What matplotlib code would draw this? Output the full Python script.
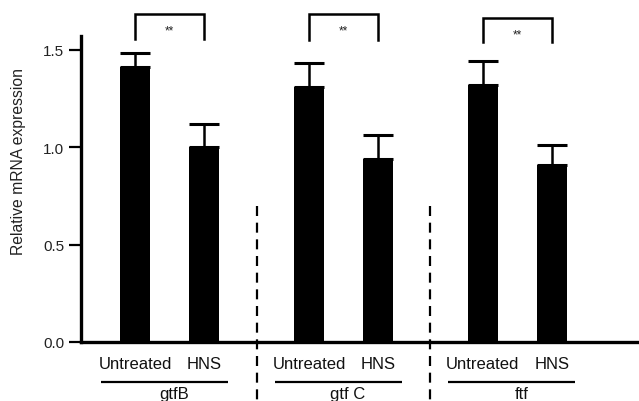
import matplotlib
matplotlib.use("Agg")
import matplotlib.pyplot as plt
from matplotlib.transforms import blended_transform_factory

plt.rcParams['font.family'] = ['Liberation Sans', 'DejaVu Sans']

# Data
genes = ["gtfB", "gtf C", "ftf"]
treatments = ["Untreated", "HNS"]
means = [1.41, 1.00, 1.31, 0.94, 1.32, 0.91]
errors = [0.07, 0.12, 0.12, 0.12, 0.12, 0.10]
bracket_tops = [1.68, 1.68, 1.66]
bracket_feet = [1.555, 1.55, 1.54]
star_y = [1.60, 1.60, 1.58]
significance = ["**", "**", "**"]
y_ticks = [0.0, 0.5, 1.0, 1.5]
y_tick_labels = ["0.0", "0.5", "1.0", "1.5"]

# Layout
group_spacing = 2.52
first_group = 1.285
half_gap = 0.5
bar_width = 0.43

group_centers = [first_group + i * group_spacing for i in range(len(genes))]
positions = []
labels = []
for gc in group_centers:
    positions += [gc - half_gap, gc + half_gap]
    labels += treatments

fig = plt.figure(figsize=(6.39, 4.02), dpi=100)
ax = fig.add_axes([81 / 639, 1 - 343 / 402, 1 - 81 / 639, (343 - 36.7) / 402])

ax.bar(positions, means, width=bar_width, color="black", zorder=2)
ax.errorbar(positions, means, yerr=[[0] * len(means), errors], fmt="none",
            ecolor="black", elinewidth=1.8, capsize=10.6, capthick=2.2, zorder=3)

ax.set_xlim(0, 558 / 69)
ax.set_ylim(0, 1.571)

for side in ("top", "right"):
    ax.spines[side].set_visible(False)
ax.spines["left"].set_linewidth(2.4)
ax.spines["bottom"].set_linewidth(2.4)

ax.set_yticks(y_ticks, y_tick_labels)
ax.tick_params(axis="y", length=9, width=1.6, direction="out", labelsize=11,
               pad=3, labelcolor="#222222")
ax.set_xticks(positions, labels)
ax.tick_params(axis="x", length=0, pad=10, labelsize=12, labelcolor="#111111")

ax.set_ylabel("Relative mRNA expression", fontsize=11.3, color="#222222")
ax.yaxis.set_label_coords(-0.099, 0.594)

trans = blended_transform_factory(ax.transData, ax.transAxes)

# Group underlines and gene names (names sit on the bottom edge)
for gc, name in zip(group_centers, genes):
    ax.plot([gc - 1.0, gc + 0.84], [-0.13, -0.13], color="black", lw=1.6,
            transform=trans, clip_on=False, solid_capstyle="butt")
    ax.text(gc + 0.06, (343 - 399) / 306.3, name, transform=trans,
            ha="center", va="baseline", fontsize=12, color="#111111")

# Dashed separators between genes
sep_top = (343 - 207) / 306.3
sep_bottom = (343 - 402) / 306.3
for a, b in zip(group_centers[:-1], group_centers[1:]):
    mid = (a + b) / 2
    ax.plot([mid, mid], [sep_top, sep_bottom], color="black", lw=1.6,
            dashes=(4.5, 3), transform=trans, clip_on=False)

# Significance brackets
for i, gc in enumerate(group_centers):
    x0, x1 = gc - half_gap, gc + half_gap
    ax.plot([x0, x0, x1, x1],
            [bracket_feet[i], bracket_tops[i], bracket_tops[i], bracket_feet[i]],
            color="black", lw=1.8, clip_on=False, solid_joinstyle="miter")
    ax.text(gc, star_y[i], significance[i], ha="center", va="center",
            fontsize=8.5, color="#222222")

fig.savefig("out.png", dpi=100)
